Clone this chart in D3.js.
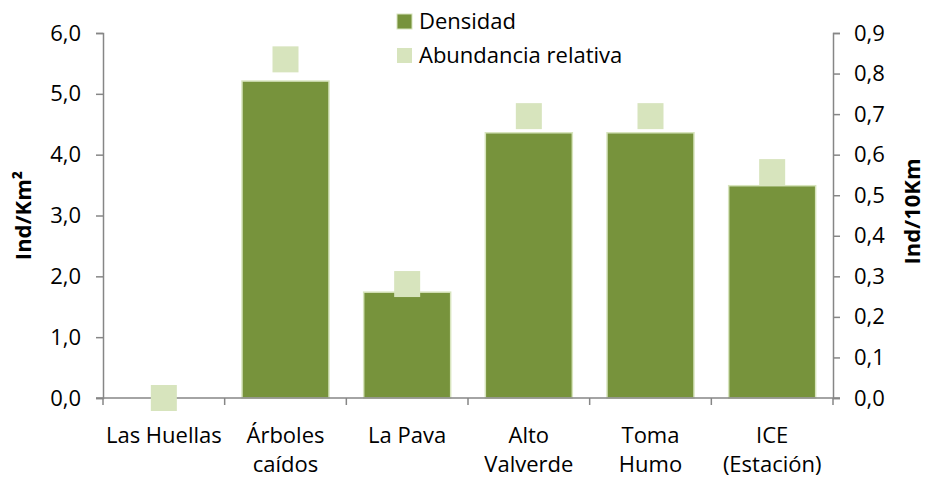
<!DOCTYPE html>
<html>
<head>
<meta charset="utf-8">
<script src="https://cdn.jsdelivr.net/npm/d3@7"></script>
<style>
  body { margin: 0; background: #fff; }
  svg text { font-family: "Open Sans", sans-serif; fill: #000; }
</style>
</head>
<body>
<div id="chart"></div>
<script>
// data
const sites = [["Las Huellas"], ["Árboles", "caídos"], ["La Pava"], ["Alto", "Valverde"], ["Toma", "Humo"], ["ICE", "(Estación)"]];
const densidad = [0, 5.21, 1.74, 4.36, 4.36, 3.49];
const abundancia = [0, 0.835, 0.281, 0.695, 0.695, 0.557];
const leftTicks = [0, 1, 2, 3, 4, 5, 6];
const rightTicks = [0, 0.1, 0.2, 0.3, 0.4, 0.5, 0.6, 0.7, 0.8, 0.9];

const width = 927, height = 478;
const margin = { top: 33, right: 94, bottom: 80, left: 103 };
const fs = 22;

const svg = d3.select('#chart').append('svg')
  .attr('width', width)
  .attr('height', height);

const x = d3.scaleBand()
  .domain(d3.range(sites.length))
  .range([margin.left, width - margin.right])
  .paddingInner(0.285)
  .paddingOuter(0.1425);

const xOuter = d3.scaleBand()
  .domain(d3.range(sites.length))
  .range([margin.left, width - margin.right]);

const y = d3.scaleLinear().domain([0, 6]).range([height - margin.bottom, margin.top]);
const y2 = d3.scaleLinear().domain([0, 0.9]).range([height - margin.bottom, margin.top]);

const axisColor = '#868686';
const fmt = d3.format('.1f');
const comma = d => fmt(d).replace('.', ',');

// bars
svg.append('g')
  .selectAll('rect')
  .data(densidad)
  .join('rect')
  .attr('x', (d, i) => x(i))
  .attr('y', d => y(d))
  .attr('width', x.bandwidth())
  .attr('height', d => y(0) - y(d))
  .attr('fill', '#77933c')
  .attr('stroke', '#d7e4bd')
  .attr('stroke-width', d => d > 0 ? 1.5 : 0);

// left axis
const gl = svg.append('g')
  .attr('transform', `translate(${margin.left},0)`)
  .call(d3.axisLeft(y).tickValues(leftTicks).tickFormat(comma).tickSize(7).tickPadding(15));
// right axis
const gr = svg.append('g')
  .attr('transform', `translate(${width - margin.right},0)`)
  .call(d3.axisRight(y2).tickValues(rightTicks).tickFormat(comma).tickSize(7).tickPadding(14));
// bottom axis with ticks on category borders
const gb = svg.append('g')
  .attr('transform', `translate(0,${y(0)})`);
gb.append('line')
  .attr('x1', margin.left - 7).attr('x2', width - margin.right + 7)
  .attr('stroke', axisColor).attr('stroke-width', 1.5);
gb.selectAll('line.tk')
  .data(d3.range(sites.length + 1))
  .join('line')
  .attr('class', 'tk')
  .attr('x1', i => i < sites.length ? xOuter(i) : xOuter(i - 1) + xOuter.bandwidth())
  .attr('x2', i => i < sites.length ? xOuter(i) : xOuter(i - 1) + xOuter.bandwidth())
  .attr('y2', 7)
  .attr('stroke', axisColor).attr('stroke-width', 1.5);

[gl, gr].forEach(g => {
  g.select('.domain').attr('stroke', axisColor).attr('stroke-width', 1.5);
  g.selectAll('.tick line').attr('stroke', axisColor).attr('stroke-width', 1.5);
  g.selectAll('.tick text').attr('font-size', fs).attr('font-family', '"Open Sans", sans-serif').attr('fill', '#000');
});

// category labels
svg.append('g')
  .selectAll('text')
  .data(sites)
  .join('text')
  .attr('x', (d, i) => xOuter(i) + xOuter.bandwidth() / 2)
  .attr('y', 443)
  .attr('text-anchor', 'middle')
  .attr('font-size', fs)
  .selectAll('tspan')
  .data(d => d)
  .join('tspan')
  .attr('x', function () { return this.parentNode.getAttribute('x'); })
  .attr('dy', (d, i) => i ? 29 : 0)
  .text(d => d);

// abundancia markers
const ms = 26;
svg.append('g')
  .selectAll('rect')
  .data(abundancia)
  .join('rect')
  .attr('x', (d, i) => x(i) + x.bandwidth() / 2 - ms / 2)
  .attr('y', d => y2(d) - ms / 2)
  .attr('width', ms)
  .attr('height', ms)
  .attr('fill', '#d7e4bd');

// axis titles
svg.append('text')
  .attr('transform', `translate(31,${(y(0) + y(6)) / 2}) rotate(-90)`)
  .attr('text-anchor', 'middle')
  .attr('font-size', fs)
  .attr('font-weight', 'bold')
  .text('Ind/Km²');
svg.append('text')
  .attr('transform', `translate(920,${(y(0) + y(6)) / 2 - 4}) rotate(-90)`)
  .attr('text-anchor', 'middle')
  .attr('font-size', fs)
  .attr('font-weight', 'bold')
  .text('Ind/10Km');

// legend
const legend = [["Densidad", '#77933c'], ["Abundancia relativa", '#d7e4bd']];
const lg = svg.append('g').attr('transform', 'translate(397,12)');
legend.forEach(([name, col], i) => {
  lg.append('rect').attr('x', 0).attr('y', i * 34 + 2).attr('width', 15).attr('height', 15)
    .attr('fill', col).attr('stroke', i ? 'none' : '#d7e4bd').attr('stroke-width', 1);
  lg.append('text').attr('x', 22).attr('y', i * 34 + 17).attr('font-size', fs).text(name);
});
</script>
</body>
</html>
